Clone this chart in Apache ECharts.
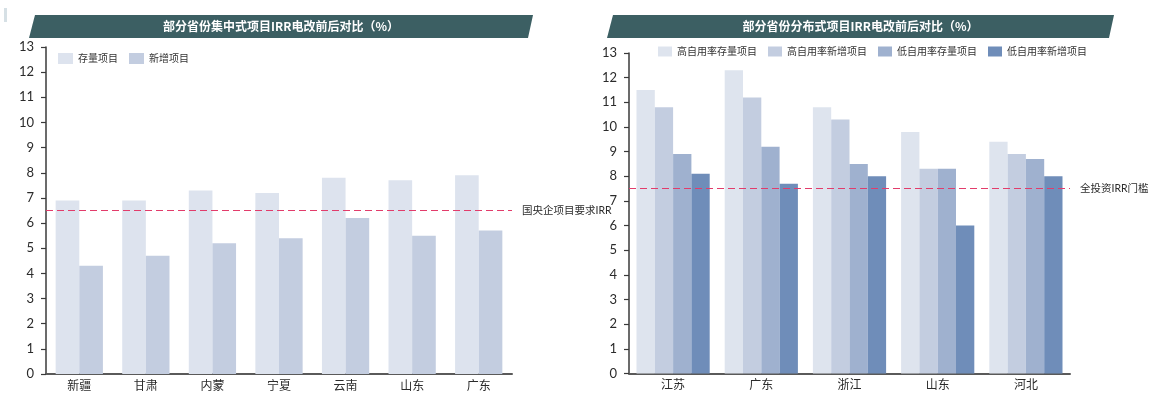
<!DOCTYPE html>
<html>
<head>
<meta charset="utf-8">
<script src="https://cdn.jsdelivr.net/npm/echarts@6/dist/echarts.min.js"></script>
<style>
  html, body { margin: 0; padding: 0; background: #fff; }
  #container { width: 1152px; height: 404px; }
</style>
</head>
<body>
<div id="container"></div>
<script>
// left chart: centralized projects
var leftCats = ['新疆', '甘肃', '内蒙', '宁夏', '云南', '山东', '广东'];
var leftNames = ['存量项目', '新增项目'];
var leftExisting = [6.9, 6.9, 7.3, 7.2, 7.8, 7.7, 7.9];
var leftNew = [4.3, 4.7, 5.2, 5.4, 6.2, 5.5, 5.7];
var leftLine = 6.5;
var leftLineName = '国央企项目要求IRR';

// right chart: distributed projects
var rightCats = ['江苏', '广东', '浙江', '山东', '河北'];
var rightNames = ['高自用率存量项目', '高自用率新增项目', '低自用率存量项目', '低自用率新增项目'];
var highExisting = [11.5, 12.3, 10.8, 9.8, 9.4];
var highNew = [10.8, 11.2, 10.3, 8.3, 8.9];
var lowExisting = [8.9, 9.2, 8.5, 8.3, 8.7];
var lowNew = [8.1, 7.7, 8.0, 6.0, 8.0];
var rightLine = 7.5;
var rightLineName = '全投资IRR门槛';

var yTicks = { min: 0, max: 13, interval: 1 };

var titles = ['部分省份集中式项目IRR电改前后对比（%）', '部分省份分布式项目IRR电改前后对比（%）'];

var font = 'Lato, "Noto Sans CJK SC", sans-serif';
var titleFont = '"Noto Sans CJK SC", sans-serif';
var leftColors = ['#dde3ee', '#c3cde0'];
var rightColors = ['#dee4ee', '#c3cde0', '#9fb1cf', '#6f8db9'];
var lineColor = '#e23c6b';

var myChart = echarts.init(document.getElementById('container'));

function yAxisOf(gridIndex) {
	return {
		type: 'value',
		gridIndex: gridIndex,
		min: yTicks.min,
		max: yTicks.max,
		interval: yTicks.interval,
		splitLine: { show: false },
		axisLine: { show: true, lineStyle: { color: '#3a3a3a', width: 1.5 } },
		axisTick: { show: true, length: 5, lineStyle: { color: '#3a3a3a', width: 1.2 } },
		axisLabel: { color: '#2b2b2b', fontSize: 13, margin: 12, fontFamily: font }
	};
}

function xAxisOf(gridIndex, cats) {
	return {
		type: 'category',
		gridIndex: gridIndex,
		data: cats,
		axisTick: { show: false },
		axisLine: { lineStyle: { color: '#5a5a5a', width: 2 } },
		axisLabel: { color: '#2b2b2b', fontSize: 12, margin: 6, fontFamily: font }
	};
}

function markLineOf(value, name) {
	return {
		silent: true,
		symbol: 'none',
		lineStyle: { color: lineColor, type: [7, 4], width: 1.2 },
		label: {
			show: true, position: 'end', distance: 10,
			formatter: name, color: '#2b2b2b', fontSize: 10.5, fontFamily: font
		},
		data: [{ yAxis: value }]
	};
}

function banner(x0, x1, text) {
	return [{
		type: 'polygon',
		shape: { points: [[x0 + 6, 15], [x1, 15], [x1 - 5, 38], [x0, 38]] },
		style: { fill: '#3c5f63' }
	}, {
		type: 'text',
		x: (x0 + x1) / 2,
		y: 26.5,
		style: {
			text: text, fill: '#fff', font: 'bold 12px ' + titleFont,
			align: 'center', verticalAlign: 'middle'
		}
	}];
}

var rightData = [highExisting, highNew, lowExisting, lowNew];

option = {
	animation: false,
	textStyle: { fontFamily: font },
	graphic: [{
		type: 'rect',
		shape: { x: 4, y: 8, width: 3, height: 14 },
		style: { fill: '#d6e0e5' }
	}].concat(banner(29, 533, titles[0])).concat(banner(607, 1114, titles[1])),
	legend: [{
		data: leftNames,
		left: 58, top: 53, padding: 0,
		icon: 'rect', itemWidth: 15, itemHeight: 11, itemGap: 11,
		textStyle: { color: '#333', fontSize: 10, fontFamily: font }
	}, {
		data: rightNames,
		left: 658, top: 46.5, padding: 0,
		icon: 'rect', itemWidth: 14, itemHeight: 10, itemGap: 11,
		textStyle: { color: '#333', fontSize: 10, fontFamily: font }
	}],
	grid: [
		{ left: 46, top: 47, width: 466, height: 327 },
		{ left: 629, top: 53, width: 441, height: 320.5 }
	],
	xAxis: [xAxisOf(0, leftCats), xAxisOf(1, rightCats)],
	yAxis: [yAxisOf(0), yAxisOf(1)],
	series: [{
		name: leftNames[0], type: 'bar', xAxisIndex: 0, yAxisIndex: 0,
		data: leftExisting, barGap: '0%', barCategoryGap: '29%',
		itemStyle: { color: leftColors[0] },
		markLine: markLineOf(leftLine, leftLineName)
	}, {
		name: leftNames[1], type: 'bar', xAxisIndex: 0, yAxisIndex: 0,
		data: leftNew, barGap: '0%', barCategoryGap: '29%',
		itemStyle: { color: leftColors[1] }
	}].concat(rightNames.map(function (name, idx) {
		var s = {
			name: name, type: 'bar', xAxisIndex: 1, yAxisIndex: 1,
			data: rightData[idx], barGap: '0%', barCategoryGap: '17%',
			itemStyle: { color: rightColors[idx] }
		};
		if (idx === 0) {
			s.markLine = markLineOf(rightLine, rightLineName);
		}
		return s;
	}))
};

myChart.setOption(option);
</script>
</body>
</html>
